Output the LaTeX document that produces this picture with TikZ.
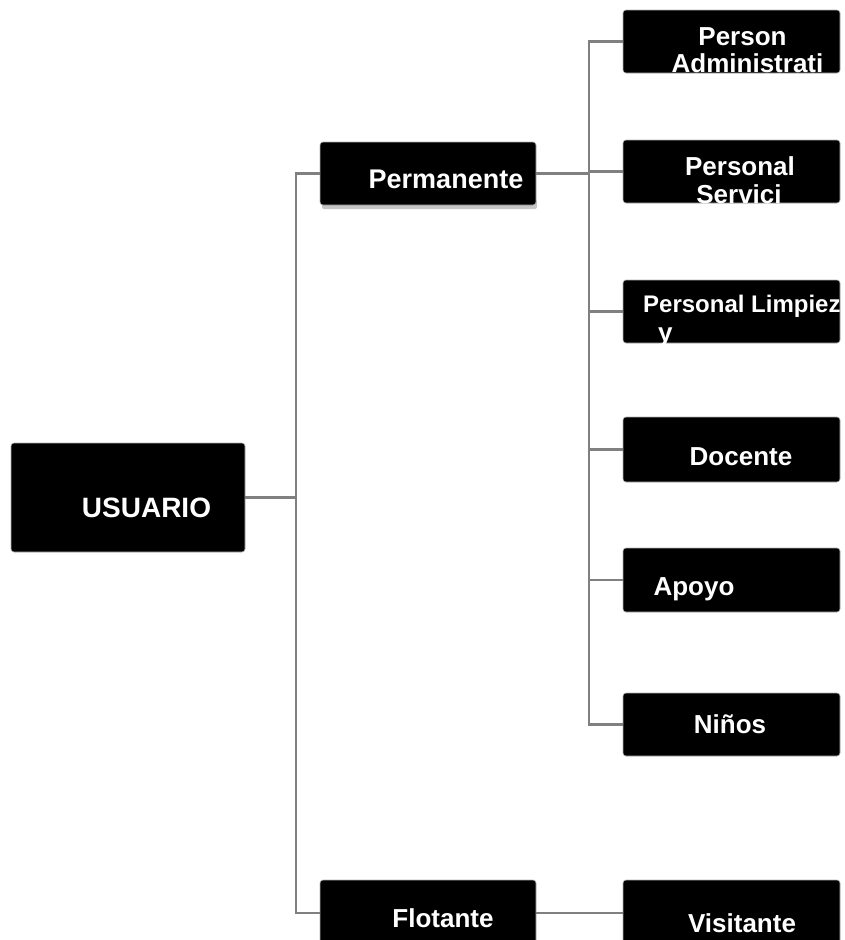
\documentclass[tikz,border=0pt]{standalone}
\usepackage{fontspec}
\setmainfont{Liberation Sans}
\definecolor{conncol}{RGB}{128,128,128}
\begin{document}
\begin{tikzpicture}[x=1pt,y=-1pt,
  box/.style={fill=black,draw=gray!60,line width=0.6pt,rounded corners=3pt,anchor=north west,inner sep=0pt,outer sep=0pt},
  lbl/.style={text=white,font=\bfseries\fontsize{26}{28}\selectfont,anchor=base,inner sep=0pt},
  conn/.style={draw=conncol,line width=2.2pt}]
\useasboundingbox (0,0) rectangle (845,940);
% shadow under Permanente
\fill[gray!45,rounded corners=2pt] (322,200) rectangle (537,209);
% boxes
\node[box,minimum width=234pt,minimum height=109pt] (U) at (11,443) {};
\node[box,minimum width=216pt,minimum height=63pt] (P) at (320,142) {};
\node[box,minimum width=217pt,minimum height=63pt] (A) at (623,10) {};
\node[box,minimum width=217pt,minimum height=63pt] (S) at (623,140) {};
\node[box,minimum width=217pt,minimum height=63pt] (L) at (623,280) {};
\node[box,minimum width=217pt,minimum height=65pt] (D) at (623,417) {};
\node[box,minimum width=217pt,minimum height=64pt] (Ap) at (623,548) {};
\node[box,minimum width=217pt,minimum height=63pt] (N) at (623,693) {};
\node[box,minimum width=216pt,minimum height=66pt] (F) at (320,880) {};
\node[box,minimum width=217pt,minimum height=66pt] (V) at (623,880) {};
% labels
\node[lbl,font=\bfseries\fontsize{28}{30}\selectfont] (tU) at (146.5,517) {USUARIO};
\node[lbl,font=\bfseries\fontsize{27}{29}\selectfont] (tP) at (446,188) {Permanente};
\node[lbl] (tA1) at (742.5,45) {Person};
\node[lbl] (tA2) at (747.5,72) {Administrati};
\node[lbl] (tS1) at (740,175) {Personal};
\node[lbl] (tS2) at (739,203) {Servici};
\node[lbl,anchor=base west,font=\bfseries\fontsize{24}{26}\selectfont] (tL1) at (643,312) {Personal Limpiez};
\node[lbl,anchor=base west] (tL2) at (658,341) {y};
\node[lbl] (tD) at (741,465) {Docente};
\node[lbl] (tAp) at (694,595) {Apoyo};
\node[lbl] (tN) at (730,733) {Niños};
\node[lbl] (tF) at (443,927) {Flotante};
\node[lbl] (tV) at (742,932) {Visitante};
% connectors
\coordinate (j1) at (296,497.5);
\coordinate (j2) at (589,173.5);
\draw[conn] (U.east) -- (j1);
\draw[conn] (P.west) -| (j1) |- (F.west);
\draw[conn] (P.east) -- (j2);
\draw[conn] (j2) |- (A.west);
\draw[conn] (j2) |- (N.west);
\foreach \n in {S,L,D,Ap} \draw[conn] (j2) |- (\n.west);
\draw[conn] (F.east) -- (V.west);
\end{tikzpicture}
\end{document}
